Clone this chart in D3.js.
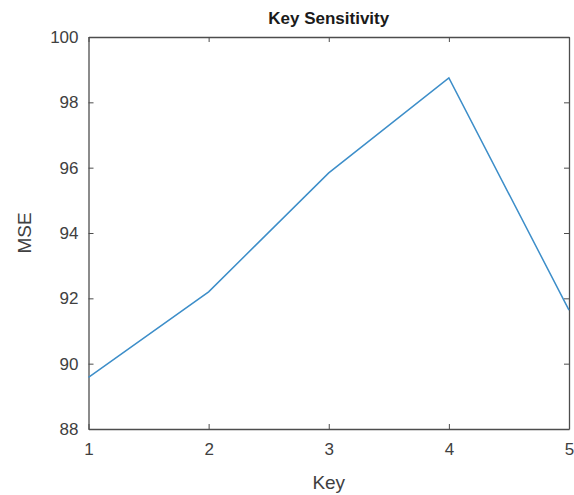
<!DOCTYPE html>
<html>
<head>
<meta charset="utf-8">
<script src="https://cdn.jsdelivr.net/npm/d3@7"></script>
<style>
  body { margin: 0; background: #fff; }
  text { font-family: "Liberation Sans", Arial, Helvetica, sans-serif; }
</style>
</head>
<body>
<div class="chart"></div>
<script>
var keys = [1, 2, 3, 4, 5];
var mse = [89.58, 92.2, 95.84, 98.75, 91.64];
var xTicks = [1, 2, 3, 4, 5];
var yTicks = [88, 90, 92, 94, 96, 98, 100];

var width = 574, height = 495;
var plotLeft = 88.5, plotRight = 569, plotTop = 37, plotBottom = 429;
var axisColor = "#4d4d4d";
var textColor = "#404040";

var svg = d3.select(".chart")
            .append("svg")
            .attr("width", width)
            .attr("height", height);

var x = d3.scaleLinear().domain([1, 5]).range([plotLeft, plotRight]);
var y = d3.scaleLinear().domain([88, 100]).range([plotBottom, plotTop]);

// bottom axis, ticks pointing in
var xAxis = svg.append("g")
    .attr("transform", "translate(0," + plotBottom + ")")
    .call(d3.axisBottom(x).tickValues(xTicks).tickSizeInner(-5).tickSizeOuter(0).tickPadding(14).tickFormat(d3.format("d")));

var yAxis = svg.append("g")
    .attr("transform", "translate(" + plotLeft + ",0)")
    .call(d3.axisLeft(y).tickValues(yTicks).tickSizeInner(-5).tickSizeOuter(0).tickPadding(10).tickFormat(d3.format("d")));

// mirrored axes on top and right
var xTop = svg.append("g")
    .attr("transform", "translate(0," + plotTop + ")")
    .call(d3.axisTop(x).tickValues(xTicks).tickSizeInner(-5).tickSizeOuter(0).tickFormat(""));

var yRight = svg.append("g")
    .attr("transform", "translate(" + plotRight + ",0)")
    .call(d3.axisRight(y).tickValues(yTicks).tickSizeInner(-5).tickSizeOuter(0).tickFormat(""));

[xAxis, yAxis, xTop, yRight].forEach(function(g) {
    g.select(".domain").attr("stroke", axisColor).attr("stroke-width", 1.3);
    g.selectAll(".tick line").attr("stroke", axisColor).attr("stroke-width", 1);
    g.selectAll(".tick text")
        .attr("fill", textColor)
        .style("font-size", "17px");
});

var line = d3.line()
    .x(function(d, i) { return x(keys[i]); })
    .y(function(d) { return y(d); });

svg.append("path")
    .datum(mse)
    .attr("fill", "none")
    .attr("stroke", "#3d8ec9")
    .attr("stroke-width", 1.5)
    .attr("d", line);

svg.append("text")
    .attr("x", (plotLeft + plotRight) / 2)
    .attr("y", 24)
    .attr("text-anchor", "middle")
    .attr("fill", "#1a1a1a")
    .style("font-size", "17px")
    .style("font-weight", "bold")
    .text("Key Sensitivity");

svg.append("text")
    .attr("x", (plotLeft + plotRight) / 2)
    .attr("y", 489)
    .attr("text-anchor", "middle")
    .attr("fill", textColor)
    .style("font-size", "19px")
    .text("Key");

svg.append("text")
    .attr("transform", "translate(31," + ((plotTop + plotBottom) / 2) + ") rotate(-90)")
    .attr("text-anchor", "middle")
    .attr("fill", textColor)
    .style("font-size", "19px")
    .text("MSE");
</script>
</body>
</html>
